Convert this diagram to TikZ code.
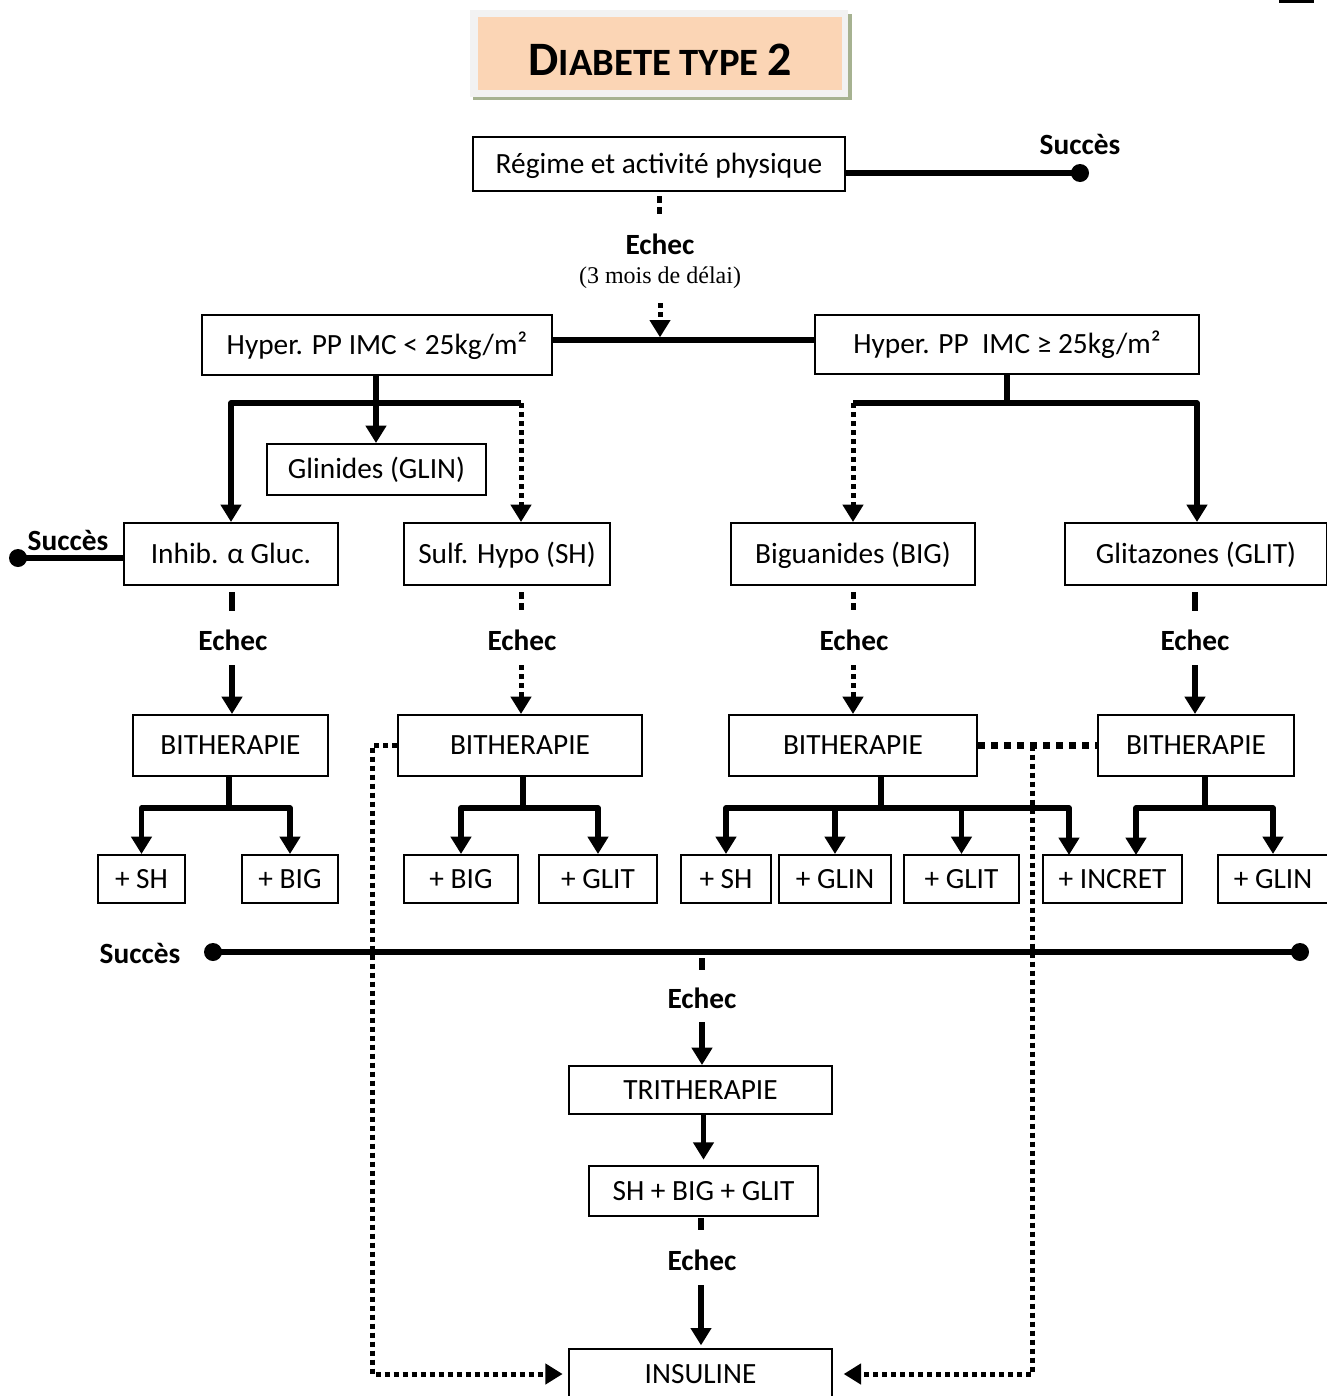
\documentclass[tikz,border=0pt]{standalone}
\usepackage{fontspec}
\setmainfont{Carlito}
\newfontfamily\timesf{Liberation Serif}
\usetikzlibrary{arrows.meta,calc}
\definecolor{peach}{RGB}{251,213,181}
\definecolor{framegray}{RGB}{242,242,242}
\definecolor{shadegreen}{RGB}{166,178,145}
\newcommand{\bxfont}{\fontsize{22}{26}\selectfont}
\begin{document}
\begin{tikzpicture}[x=0.75pt,y=-0.75pt,
  bx/.style={draw, line width=1.5pt, inner sep=0pt, font=\bxfont, text height=16.5pt, text depth=2.6pt},
  sz/.style 2 args={minimum width=#1*0.75pt, minimum height=#2*0.75pt},
  lbl/.style={inner sep=0pt, font=\bfseries\bxfont, text height=16.5pt, text depth=2.6pt},
  thk/.style={line width=4pt, line join=round},
  arr/.style={-{Triangle[width=15pt,length=13pt]}},
  dotln/.style={line width=3.75pt, dash pattern=on 3.75pt off 3pt},
  dotstub/.style={line width=3.75pt, dash pattern=on 5.25pt off 3pt},
  dotbig/.style={line width=5.25pt, dash pattern=on 5.25pt off 4.5pt}]
\useasboundingbox (0,0) rectangle (1327,1396);
\clip (0,0) rectangle (1327,1396);

% corner mark
\fill (1279,0) rectangle (1314,3);

% title
\fill[shadegreen] (473,14) rectangle (852,100);
\fill[framegray] (470,10) rectangle (848,97);
\fill[peach] (478,17) rectangle (842,90);
\node[inner sep=0pt, font=\bfseries] (title) at (660,60)
  {\fontsize{36}{42}\selectfont D\fontsize{29}{34}\selectfont IABETE TYPE \fontsize{36}{42}\selectfont 2};

% nodes
\node[bx,sz={372}{54}] (regime) at (659,164) {Régime et activité physique};
\node[bx,sz={350}{60}] (hypL) at (377,345) {Hyper. PP IMC < 25kg/m²};
\node[bx,sz={384}{59}] (hypR) at (1007,344.5) {Hyper. PP~~IMC ≥ 25kg/m²};
\node[bx,sz={219}{51}] (glin) at (376.5,469.5) {Glinides (GLIN)};
\node[bx,sz={214}{62}] (inhib) at (231,554) {Inhib. α Gluc.};
\node[bx,sz={206}{62}] (sulf) at (507,554) {Sulf. Hypo (SH)};
\node[bx,sz={244}{62}] (bigu) at (853,554) {Biguanides (BIG)};
\node[bx,sz={262}{62}] (glit) at (1196,554) {Glitazones (GLIT)};
\node[bx,sz={195}{61}] (bi1) at (230.5,745.5) {BITHERAPIE};
\node[bx,sz={244}{61}] (bi2) at (520,745.5) {BITHERAPIE};
\node[bx,sz={248}{61}] (bi3) at (853,745.5) {BITHERAPIE};
\node[bx,sz={196}{61}] (bi4) at (1196,745.5) {BITHERAPIE};
\node[bx,sz={87}{48}] (c1) at (141.5,879) {+ SH};
\node[bx,sz={96}{48}] (c2) at (290,879) {+ BIG};
\node[bx,sz={114}{48}] (c3) at (461,879) {+ BIG};
\node[bx,sz={118}{48}] (c4) at (598,879) {+ GLIT};
\node[bx,sz={90}{48}] (c5) at (726,879) {+ SH};
\node[bx,sz={112}{48}] (c6) at (835,879) {+ GLIN};
\node[bx,sz={115}{48}] (c7) at (961.5,879) {+ GLIT};
\node[bx,sz={139}{48}] (c8) at (1112.5,879) {+ INCRET};
\node[bx,sz={110}{48}] (c9) at (1273,879) {+ GLIN};
\node[bx,sz={263}{48}] (trith) at (700.5,1090) {TRITHERAPIE};
\node[bx,sz={229}{50}] (shbig) at (703.5,1191) {SH + BIG + GLIT};
\node[bx,sz={263}{50}] (insul) at (700.5,1374) {INSULINE};

% top: success / failure
\coordinate (s1) at (1080,173);
\draw[thk] (s1 -| regime.east) -- (s1);
\fill (s1) circle (9);
\node[lbl] (succ1) at (1080,145) {Succès};
\coordinate (e0a) at (659,196);
\coordinate (e0b) at (659,215);
\draw[dotstub] (e0a) -- (e0b);
\node[lbl] (ech0) at (660,245) {Echec};
\node[inner sep=0pt, font=\timesf\fontsize{18}{22}\selectfont, text height=13pt, text depth=3.6pt] (delai) at (660,277) {(3 mois de délai)};
\coordinate (hj) at (660,340);
\coordinate (hjt) at (660,303);
\draw[dotln,arr] (hjt) -- ([yshift=2pt]hj);
\draw[thk] (hypL.east |- hj) -- (hypR.west |- hj);

% left tree
\coordinate (jL) at (376,403);
\coordinate (jLa) at (231,403);
\coordinate (jLb) at (521,403);
\draw[thk] (hypL.south -| jL) -- (jL);
\draw[thk,arr] (jLb) -- (jLa) -- (jLa |- inhib.north);
\draw[thk,arr] (jL) -- (jL |- glin.north);
\draw[dotln,arr] (jLb) -- (jLb |- sulf.north);

% left success
\coordinate (s2) at (18,558);
\draw[thk] (inhib.west |- s2) -- (s2);
\fill (s2) circle (9);
\node[lbl] (succ2) at (68,541) {Succès};

% right tree
\coordinate (jR) at (1007,403);
\coordinate (jRa) at (853,403);
\coordinate (jRb) at (1197,403);
\draw[thk] (hypR.south -| jR) -- (jR);
\draw[thk,arr] (jRa) -- (jRb) -- (jRb |- glit.north);
\draw[dotln,arr] (jRa) -- (jRa |- bigu.north);

% echec columns
\node[lbl] (ech1) at (233,641) {Echec};
\node[lbl] (ech2) at (522,641) {Echec};
\node[lbl] (ech3) at (854,641) {Echec};
\node[lbl] (ech4) at (1195,641) {Echec};
\coordinate (x1) at (232,592);
\coordinate (x2) at (521,592);
\coordinate (x3) at (853,592);
\coordinate (x4) at (1195,592);
\draw[thk] (x1) -- ++(0,19);
\draw[dotstub] (x2) -- ++(0,19);
\draw[dotstub] (x3) -- ++(0,19);
\draw[thk] (x4) -- ++(0,19);
\draw[thk,arr] (x1 |- 0,665) -- (x1 |- bi1.north);
\draw[dotln,arr] (x2 |- 0,665) -- (x2 |- bi2.north);
\draw[dotln,arr] (x3 |- 0,665) -- (x3 |- bi3.north);
\draw[thk,arr] (x4 |- 0,665) -- (x4 |- bi4.north);

% bitherapie children
\coordinate (k1) at (229,808);
\draw[thk] (bi1.south -| k1) -- (k1);
\draw[thk,arr] (k1) -| (c1.north);
\draw[thk,arr] (k1) -| (c2.north);
\coordinate (k2) at (523,808);
\draw[thk] (bi2.south -| k2) -- (k2);
\draw[thk,arr] (k2) -| (c3.north);
\draw[thk,arr] (k2) -| (c4.north);
\coordinate (k3) at (881,808);
\coordinate (t8a) at (1069,855);
\draw[thk] (bi3.south -| k3) -- (k3);
\draw[thk,arr] (k3) -| (c5.north);
\draw[thk,arr] (k3) -| (c6.north);
\draw[thk,arr] (k3) -| (c7.north);
\draw[thk,arr] (k3) -| (t8a);
\coordinate (k4) at (1205,808);
\coordinate (t8b) at (1136,855);
\draw[thk] (bi4.south -| k4) -- (k4);
\draw[thk,arr] (k4) -| (t8b);
\draw[thk,arr] (k4) -| (c9.north);

% dotted links to insulin
\coordinate (dL) at (372,745.5);
\coordinate (dR) at (1032,745.5);
\draw[dotbig] (bi3.east) -- (bi4.west);
\draw[dotln,arr,shorten >=4pt] (bi2.west) -- (dL) |- (insul.west);
\draw[dotln,arr,shorten >=8pt] (dR) |- (insul.east);

% success line
\coordinate (sL) at (213,952);
\coordinate (sR) at (1300,952);
\draw[thk] (sL) -- (sR);
\fill (sL) circle (9);
\fill (sR) circle (9);
\node[lbl] (succ3) at (140,954) {Succès};

% tritherapie column
\coordinate (y1) at (702,958);
\draw[thk] (y1) -- ++(0,12);
\node[lbl] (ech5) at (702,999) {Echec};
\draw[thk,arr] (y1 |- 0,1022) -- (y1 |- trith.north);
\draw[thk,arr,shorten >=4pt] (shbig.north |- trith.south) -- (shbig.north);
\coordinate (y2) at (701,1218);
\draw[thk] (y2) -- ++(0,12);
\node[lbl] (ech6) at (702,1261) {Echec};
\draw[thk,arr,shorten >=2pt] (y2 |- 0,1285) -- (y2 |- insul.north);
\end{tikzpicture}
\end{document}
